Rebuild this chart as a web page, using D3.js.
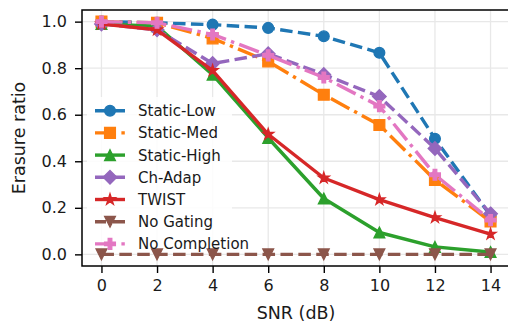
<!DOCTYPE html>
<html>
<head>
<meta charset="utf-8">
<script src="https://cdn.jsdelivr.net/npm/d3@7"></script>
<style>
  body { margin: 0; background: #fff; }
  svg { display: block; font-family: "DejaVu Sans", sans-serif; }
</style>
</head>
<body>
<script>
// SNR values on the x axis
const snr = [0, 2, 4, 6, 8, 10, 12, 14];

// erasure ratio per method
const staticLow  = [1.00, 0.995, 0.987, 0.973, 0.937, 0.866, 0.497, 0.166];
const staticMed  = [1.00, 0.995, 0.928, 0.829, 0.686, 0.556, 0.320, 0.141];
const staticHigh = [0.99, 0.980, 0.772, 0.500, 0.240, 0.094, 0.032, 0.010];
const chAdap     = [0.99, 0.965, 0.820, 0.862, 0.773, 0.678, 0.455, 0.174];
const twist      = [0.99, 0.965, 0.790, 0.516, 0.328, 0.235, 0.158, 0.087];
const noGating   = [0.00, 0.000, 0.000, 0.000, 0.000, 0.000, 0.000, 0.000];
const noCompl    = [1.00, 0.995, 0.945, 0.855, 0.760, 0.637, 0.342, 0.147];

const seriesNames = ["Static-Low", "Static-Med", "Static-High", "Ch-Adap", "TWIST", "No Gating", "No Completion"];
const seriesVals  = [staticLow, staticMed, staticHigh, chAdap, twist, noGating, noCompl];

const xTicks = [0, 2, 4, 6, 8, 10, 12, 14];
const yTicks = [0, 0.2, 0.4, 0.6, 0.8, 1.0];

const dashed = "12.5,5.4";
const dashDot = "21,5.4,3.4,5.4";
const styles = [
    {color: "#1f77b4", dash: dashed, marker: "circle"},
    {color: "#ff7f0e", dash: dashDot, marker: "square"},
    {color: "#2ca02c", dash: null, marker: "tri"},
    {color: "#9467bd", dash: dashed, marker: "diamond"},
    {color: "#d62728", dash: null, marker: "star"},
    {color: "#8c564b", dash: dashed, marker: "tridown"},
    {color: "#e377c2", dash: dashDot, marker: "plus"}
];

const W = 508, H = 322;
const plotL = 82, plotR = 510, plotT = 10, plotB = 266;
const lw = 3.4;

const x = d3.scaleLinear().domain([-0.7, 14.7]).range([plotL, plotR]);
const y = d3.scaleLinear().domain([-0.05, 1.05]).range([plotB, plotT]);

function markerPath(type) {
    const s = 5.4;
    if (type === "circle") return `M${s},0A${s},${s},0,1,1,${-s},0A${s},${s},0,1,1,${s},0Z`;
    if (type === "square") return `M${-s},${-s}H${s}V${s}H${-s}Z`;
    if (type === "tri") return `M0,${-s}L${s},${s}L${-s},${s}Z`;
    if (type === "tridown") return `M0,${s}L${s},${-s}L${-s},${-s}Z`;
    if (type === "diamond") {
        const d = 6.8;
        return `M0,${-d}L${d},0L0,${d}L${-d},0Z`;
    }
    if (type === "star") {
        const ro = 5.8, ri = ro * 0.382;
        let p = "";
        for (let i = 0; i < 10; i++) {
            const r = i % 2 ? ri : ro;
            const a = -Math.PI / 2 + i * Math.PI / 5;
            p += (i ? "L" : "M") + (r * Math.cos(a)).toFixed(2) + "," + (r * Math.sin(a)).toFixed(2);
        }
        return p + "Z";
    }
    if (type === "plus") {
        const a = s, b = s / 3;
        return `M${-b},${-a}H${b}V${-b}H${a}V${b}H${b}V${a}H${-b}V${b}H${-a}V${-b}H${-b}Z`;
    }
}

const svg = d3.select("body").append("svg")
    .attr("width", W)
    .attr("height", H);

// grid
svg.append("g").selectAll("line")
    .data(xTicks).enter().append("line")
    .attr("x1", d => x(d)).attr("x2", d => x(d))
    .attr("y1", plotT).attr("y2", plotB)
    .attr("stroke", "#e8e8e8").attr("stroke-width", 1.3);
svg.append("g").selectAll("line")
    .data(yTicks).enter().append("line")
    .attr("x1", plotL).attr("x2", plotR)
    .attr("y1", d => y(d)).attr("y2", d => y(d))
    .attr("stroke", "#e8e8e8").attr("stroke-width", 1.3);

// axes
const xAxis = d3.axisBottom(x).tickValues(xTicks).tickSize(7).tickPadding(7).tickFormat(d3.format("d"));
const yAxis = d3.axisLeft(y).tickValues(yTicks).tickSize(7).tickPadding(8).tickFormat(d3.format(".1f"));

const gx = svg.append("g")
    .attr("transform", `translate(0,${plotB})`)
    .call(xAxis);
const gy = svg.append("g")
    .attr("transform", `translate(${plotL},0)`)
    .call(yAxis);
[gx, gy].forEach(g => {
    g.select(".domain").remove();
    g.selectAll(".tick line").attr("stroke", "#000").attr("stroke-width", 1.4);
    g.selectAll(".tick text").attr("fill", "#1a1a1a").style("font-size", "16px")
        .style("font-family", "DejaVu Sans");
});

// lines + markers
const line = d3.line()
    .x((d, i) => x(snr[i]))
    .y(d => y(d));

// legend background sits under the lines, it only hides the grid
const legend = svg.append("g");
legend.append("rect")
    .attr("x", 87).attr("y", 97)
    .attr("width", 145).attr("height", 156)
    .attr("fill", "#fff").attr("fill-opacity", 0.85);

seriesVals.forEach((vals, k) => {
    const st = styles[k];
    const g = svg.append("g");
    g.append("path")
        .datum(vals)
        .attr("d", line)
        .attr("fill", "none")
        .attr("stroke", st.color)
        .attr("stroke-width", lw)
        .attr("stroke-linejoin", "round")
        .attr("stroke-linecap", st.dash ? "butt" : "square")
        .attr("stroke-dasharray", st.dash);
    g.selectAll("path.m")
        .data(vals).enter().append("path")
        .attr("class", "m")
        .attr("d", markerPath(st.marker))
        .attr("transform", (d, i) => `translate(${x(snr[i])},${y(d)})`)
        .attr("fill", st.color)
        .attr("stroke", st.color)
        .attr("stroke-width", 1.3)
        .attr("stroke-linejoin", "miter");
});

// frame
svg.append("rect")
    .attr("x", plotL).attr("y", plotT)
    .attr("width", plotR - plotL).attr("height", plotB - plotT)
    .attr("fill", "none").attr("stroke", "#000").attr("stroke-width", 1.5);

const legendRows = svg.append("g");
seriesNames.forEach((name, k) => {
    const st = styles[k];
    const cy = 110.7 + k * 22.2;
    const row = legendRows.append("g");
    row.append("line")
        .attr("x1", 95).attr("x2", 125)
        .attr("y1", cy).attr("y2", cy)
        .attr("stroke", st.color).attr("stroke-width", lw)
        .attr("stroke-dasharray", st.dash ? (st.dash === dashed ? "11,7,12" : st.dash) : null);
    row.append("path")
        .attr("d", markerPath(st.marker))
        .attr("transform", `translate(110,${cy})`)
        .attr("fill", st.color).attr("stroke", st.color).attr("stroke-width", 1.3);
    row.append("text")
        .attr("x", 138).attr("y", cy)
        .attr("dy", "0.36em")
        .attr("fill", "#1a1a1a")
        .style("font-size", "15px")
        .text(name);
});

// axis labels
svg.append("text")
    .attr("x", x(7)).attr("y", 319)
    .attr("text-anchor", "middle")
    .attr("fill", "#1a1a1a")
    .style("font-size", "17.5px")
    .text("SNR (dB)");
svg.append("text")
    .attr("transform", `translate(25,${(plotT + plotB) / 2}) rotate(-90)`)
    .attr("text-anchor", "middle")
    .attr("fill", "#1a1a1a")
    .style("font-size", "17.5px")
    .text("Erasure ratio");
</script>
</body>
</html>
